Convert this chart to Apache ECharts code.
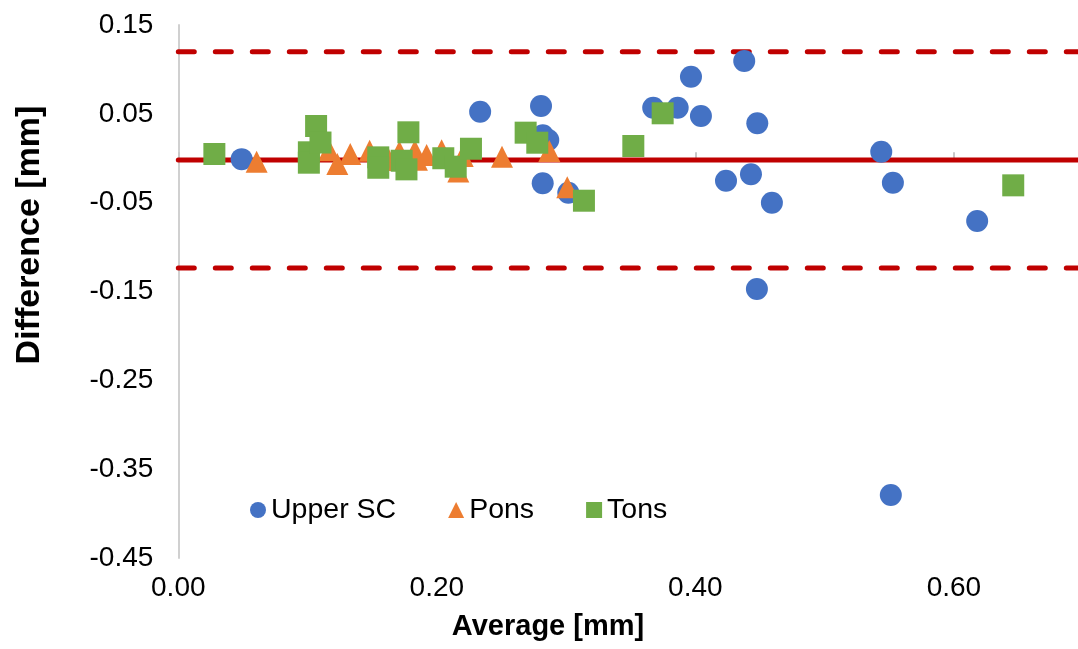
<!DOCTYPE html>
<html>
<head>
<meta charset="utf-8">
<script src="https://cdn.jsdelivr.net/npm/echarts@6/dist/echarts.min.js"></script>
<style>
html,body{margin:0;padding:0;background:#fff;}
#chart{width:1078px;height:649px;}
</style>
</head>
<body>
<div id="chart"></div>
<script>
// ---- data ----
const upperSC = [
  [0.049, -0.001], [0.2335, 0.0524], [0.2806, 0.0588], [0.282, 0.026], [0.2862, 0.0205],
  [0.2819, -0.0282], [0.3017, -0.0388], [0.3674, 0.0569], [0.3863, 0.0569], [0.3966, 0.0918],
  [0.4043, 0.0476], [0.4378, 0.1095], [0.4479, 0.0393], [0.4237, -0.0253], [0.443, -0.0181],
  [0.4592, -0.05], [0.4476, -0.1472], [0.5438, 0.0074], [0.5528, -0.0275], [0.5512, -0.379],
  [0.618, -0.0706]
];
const pons = [
  [0.0606, -0.004], [0.1166, 0.009], [0.123, -0.0065], [0.133, 0.0048], [0.148, 0.0085],
  [0.163, -0.002], [0.171, 0.0074], [0.183, 0.0085], [0.1846, -0.0017], [0.1921, 0.0036],
  [0.2037, 0.009], [0.22, 0.0025], [0.2166, -0.015], [0.2504, 0.0017], [0.287, 0.0082],
  [0.3009, -0.0327]
];
const tons = [
  [0.0279, 0.0048], [0.101, 0.0067], [0.101, -0.005], [0.1066, 0.0363], [0.110, 0.0177],
  [0.1547, 0.001], [0.1547, -0.0107], [0.178, 0.0292], [0.1728, -0.0028], [0.1765, -0.0125],
  [0.205, 0.0], [0.2146, -0.0095], [0.2264, 0.0107], [0.2687, 0.0288], [0.2777, 0.0175],
  [0.3138, -0.0478], [0.352, 0.0138], [0.3747, 0.0506], [0.6459, -0.0305]
];
const meanDiff = -0.002;
const upperLoA = 0.12;
const lowerLoA = -0.1235;
// visible x range (the plot is cut at the right edge of the picture)
const xMin = 0, xMax = 0.696;
const yMin = -0.45, yMax = 0.15;
const xTicks = [0, 0.2, 0.4, 0.6];
const yTicks = [-0.45, -0.35, -0.25, -0.15, -0.05, 0.05, 0.15];
const seriesNames = ['Upper SC', 'Pons', 'Tons'];

// ---- chart ----
const FONT = '"Liberation Sans", Arial, Helvetica, sans-serif';
const chart = echarts.init(document.getElementById('chart'), null, {renderer: 'canvas'});
const hline = (v, dashed) => ({
  type: 'line', data: [[xMin, v], [xMax, v]], symbol: 'none', silent: true, z: 1,
  xAxisIndex: 0, yAxisIndex: 0,
  lineStyle: {color: '#C00000', width: 5, type: dashed ? [16, 21] : 'solid', cap: 'round'}
});
chart.setOption({
  animation: false,
  backgroundColor: '#fff',
  grid: {left: 178.3, right: 0, top: 25, bottom: 91, containLabel: false},
  xAxis: [{
    type: 'value', min: xMin, max: xMax, position: 'bottom',
    axisLine: {show: false, onZero: false}, axisTick: {show: false}, splitLine: {show: false},
    axisLabel: {customValues: xTicks, formatter: v => v.toFixed(2), fontSize: 28, color: '#000', fontFamily: FONT, margin: 16}
  }, {
    type: 'value', min: xMin, max: xMax, position: 'top',
    axisLine: {show: true, onZero: true, lineStyle: {color: '#d0d0d0', width: 1}},
    axisTick: {show: true, customValues: xTicks, length: 6, lineStyle: {color: '#c8c8c8', width: 2}},
    axisLabel: {show: false}, splitLine: {show: false}
  }],
  yAxis: {
    type: 'value', min: yMin, max: yMax,
    axisLine: {show: true, onZero: false, lineStyle: {color: '#d0d0d0', width: 2}},
    axisTick: {show: false}, splitLine: {show: false},
    axisLabel: {customValues: yTicks, formatter: v => v.toFixed(2), fontSize: 28, color: '#000', fontFamily: FONT, margin: 25}
  },
  legend: {
    left: 250, top: 495, padding: 0, itemGap: 52, itemWidth: 16, itemHeight: 16,
    textStyle: {fontSize: 28.5, color: '#000', fontFamily: FONT, lineHeight: 30},
    data: [{name: seriesNames[0], icon: 'circle'}, {name: seriesNames[1], icon: 'triangle'}, {name: seriesNames[2], icon: 'rect'}]
  },
  title: {
    text: 'Average [mm]', left: 548, top: 612, textAlign: 'center', padding: 0,
    textStyle: {fontSize: 29, fontWeight: 'bold', color: '#000', fontFamily: FONT}
  },
  graphic: [{
    type: 'text', x: 30, y: 235, rotation: Math.PI / 2,
    style: {text: 'Difference [mm]', fill: '#000', font: 'bold 34px ' + FONT, textAlign: 'center', textVerticalAlign: 'middle'}
  }],
  series: [
    hline(meanDiff, false), hline(upperLoA, true), hline(lowerLoA, true),
    {name: seriesNames[0], type: 'scatter', data: upperSC, symbol: 'circle', symbolSize: 22, z: 3,
     itemStyle: {color: '#4472C4', opacity: 1}},
    {name: seriesNames[1], type: 'scatter', data: pons, symbol: 'triangle', symbolSize: 22, z: 4,
     itemStyle: {color: '#ED7D31', opacity: 1}},
    {name: seriesNames[2], type: 'scatter', data: tons, symbol: 'rect', symbolSize: 22, z: 5,
     itemStyle: {color: '#70AD47', opacity: 1}}
  ]
});
</script>
</body>
</html>
